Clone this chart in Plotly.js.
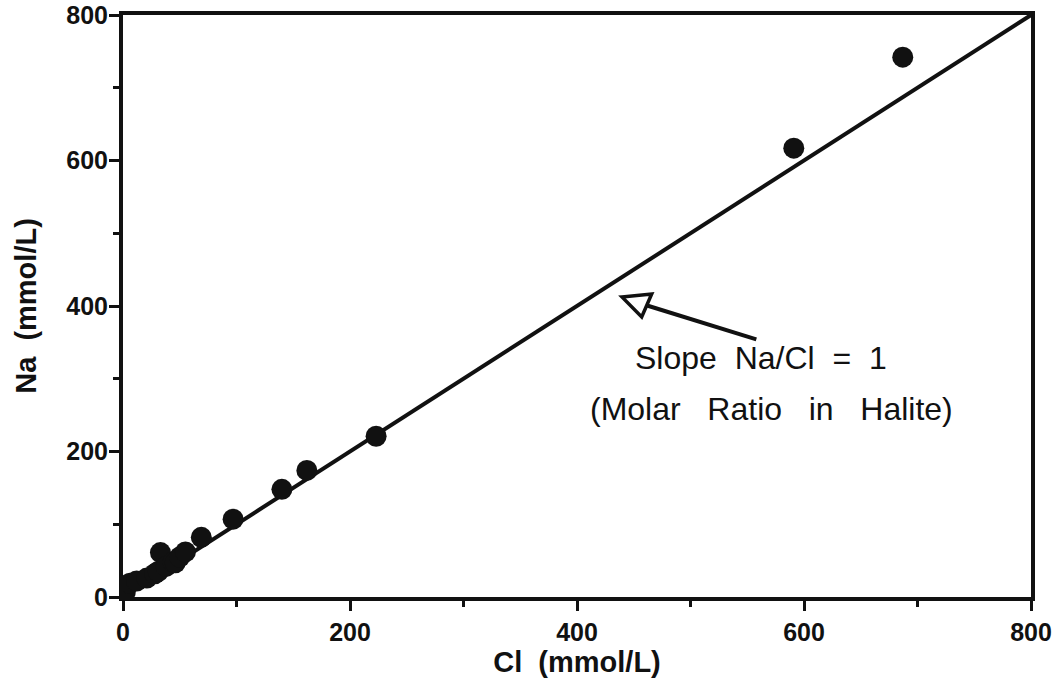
<!DOCTYPE html>
<html>
<head>
<meta charset="utf-8">
<script src="https://cdn.plot.ly/plotly-3.0.1.min.js"></script>
<style>html,body{margin:0;padding:0;background:#fff;}#chart{width:1062px;height:690px;}</style>
</head>
<body>
<div id="chart"></div>
<script>
// Measured data (mmol/L)
const clValues = [0, 2, 6, 12, 21, 28, 31, 33, 38, 44, 46, 50, 55, 69, 97, 140, 162, 223, 591, 687];
const naValues = [2, 7, 19, 22, 26, 32, 35, 61, 42, 48, 47, 55, 62, 82, 107, 148, 174, 221, 617, 742];

// Reference line: molar ratio Na/Cl = 1
const lineX = [0, 800];
const lineY = [0, 800];

const xTickVals = [0, 200, 400, 600, 800];
const yTickVals = [0, 200, 400, 600, 800];

const annotationLines = ["Slope  Na/Cl  =  1", "(Molar   Ratio   in   Halite)"];
const xTitle = '\u00a0'.repeat(9) + 'Cl  (mmol/L)';
const yTitle = 'Na  (mmol/L)';

const traces = [
  {x: lineX, y: lineY, mode: 'lines', type: 'scatter',
   line: {color: '#111', width: 4}, hoverinfo: 'skip', showlegend: false},
  {x: clValues, y: naValues, mode: 'markers', type: 'scatter',
   marker: {color: '#111', size: 21}, showlegend: false}
];

const tickFont = {family: 'Liberation Sans, Arial, sans-serif', size: 25, color: '#111', weight: 'bold'};
const titleFont = {family: 'Liberation Sans, Arial, sans-serif', size: 29, color: '#111', weight: 'bold'};

const layout = {
  width: 1062, height: 690,
  margin: {l: 123, r: 31, t: 15, b: 93},
  paper_bgcolor: '#fff', plot_bgcolor: '#fff',
  showlegend: false,
  xaxis: {
    range: [0, 800], tickvals: xTickVals, ticktext: xTickVals.map(String),
    showgrid: false, zeroline: false,
    showline: true, linecolor: '#111', linewidth: 4, mirror: true,
    ticks: 'outside', ticklen: 10, tickwidth: 3, tickcolor: '#111',
    minor: {dtick: 100, tick0: 0, ticks: 'outside', ticklen: 6, tickwidth: 3, tickcolor: '#111'},
    tickfont: tickFont,
    title: {text: xTitle, font: titleFont, standoff: 6}
  },
  yaxis: {
    range: [0, 800], tickvals: yTickVals, ticktext: yTickVals.map(String),
    showgrid: false, zeroline: false,
    showline: true, linecolor: '#111', linewidth: 4, mirror: true,
    ticks: 'outside', ticklen: 10, tickwidth: 3, tickcolor: '#111',
    minor: {dtick: 100, tick0: 0, ticks: 'outside', ticklen: 6, tickwidth: 3, tickcolor: '#111'},
    tickfont: tickFont, ticklabelstandoff: -4,
    title: {text: yTitle, font: titleFont, standoff: 22}
  },
  annotations: [
    {x: 562, y: 328, xref: 'x', yref: 'y', text: annotationLines[0], showarrow: false,
     font: {family: 'Liberation Sans, Arial, sans-serif', size: 32, color: '#111'}},
    {x: 571, y: 259, xref: 'x', yref: 'y', text: annotationLines[1], showarrow: false,
     font: {family: 'Liberation Sans, Arial, sans-serif', size: 32, color: '#111'}}
  ],
  shapes: [
    // arrow shaft
    {type: 'line', xref: 'x', yref: 'y', x0: 558, y0: 354, x1: 461, y1: 401,
     line: {color: '#111', width: 4}},
    // open arrowhead
    {type: 'path', xref: 'x', yref: 'y',
     path: 'M 439.6 412.4 L 465.8 416.5 L 457.0 384.9 Z',
     fillcolor: '#fff', line: {color: '#111', width: 3.5}}
  ]
};

Plotly.newPlot('chart', traces, layout, {displayModeBar: false, staticPlot: true});
</script>
</body>
</html>
